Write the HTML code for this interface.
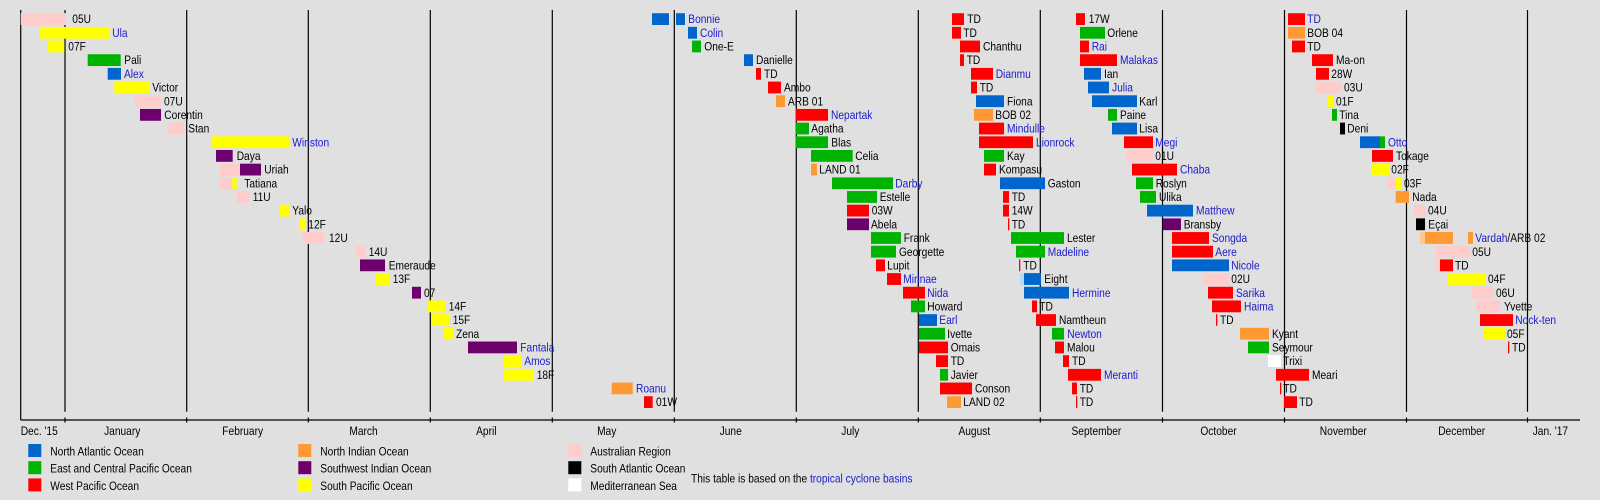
<!DOCTYPE html>
<html><head><meta charset="utf-8"><style>
html,body{margin:0;padding:0;background:#e0e0e0;}
svg{display:block;}
text{font-family:"Liberation Sans",Arial,sans-serif;font-size:12px;fill:#000;}
.l{fill:#1a1acc;}
.B{fill:#0066cc}.G{fill:#00b300}.R{fill:#ff0000}.O{fill:#ff9933}.P{fill:#6e006e}.Y{fill:#ffff00}.K{fill:#ffcccc}.N{fill:#000}.W{fill:#ffffff}
</style></head><body>
<svg width="1600" height="500" viewBox="0 0 1600 500" xmlns="http://www.w3.org/2000/svg">
<rect x="0" y="0" width="1600" height="500" fill="#e0e0e0"/>
<g stroke="#000" stroke-width="1.2">
<line x1="20.7" y1="10" x2="20.7" y2="420"/>
<line x1="65" y1="10" x2="65" y2="411.7"/><line x1="65" y1="417.5" x2="65" y2="422.5"/>
<line x1="186.7" y1="10" x2="186.7" y2="411.7"/><line x1="186.7" y1="417.5" x2="186.7" y2="422.5"/>
<line x1="308.3" y1="10" x2="308.3" y2="411.7"/><line x1="308.3" y1="417.5" x2="308.3" y2="422.5"/>
<line x1="430.3" y1="10" x2="430.3" y2="411.7"/><line x1="430.3" y1="417.5" x2="430.3" y2="422.5"/>
<line x1="552.3" y1="10" x2="552.3" y2="411.7"/><line x1="552.3" y1="417.5" x2="552.3" y2="422.5"/>
<line x1="674.3" y1="10" x2="674.3" y2="411.7"/><line x1="674.3" y1="417.5" x2="674.3" y2="422.5"/>
<line x1="796.3" y1="10" x2="796.3" y2="411.7"/><line x1="796.3" y1="417.5" x2="796.3" y2="422.5"/>
<line x1="918.3" y1="10" x2="918.3" y2="411.7"/><line x1="918.3" y1="417.5" x2="918.3" y2="422.5"/>
<line x1="1040.3" y1="10" x2="1040.3" y2="411.7"/><line x1="1040.3" y1="417.5" x2="1040.3" y2="422.5"/>
<line x1="1162.5" y1="10" x2="1162.5" y2="411.7"/><line x1="1162.5" y1="417.5" x2="1162.5" y2="422.5"/>
<line x1="1284.5" y1="10" x2="1284.5" y2="411.7"/><line x1="1284.5" y1="417.5" x2="1284.5" y2="422.5"/>
<line x1="1406.5" y1="10" x2="1406.5" y2="411.7"/><line x1="1406.5" y1="417.5" x2="1406.5" y2="422.5"/>
<line x1="1527.5" y1="10" x2="1527.5" y2="411.7"/><line x1="1527.5" y1="417.5" x2="1527.5" y2="422.5"/>
<line x1="20.7" y1="420" x2="1580" y2="420"/>
</g>

<!-- Row 0 -->
<g transform="translate(0,13.2)">
<rect class="K" x="20.7" y="0" width="45.3" height="11.8"/><text transform="translate(72.3,10) scale(.85,1)">05U</text>
<rect class="B" x="652" y="0" width="17" height="11.8"/><rect class="B" x="676" y="0" width="9" height="11.8"/><text class="l" transform="translate(688.3,10) scale(.85,1)">Bonnie</text>
<rect class="R" x="952" y="0" width="12" height="11.8"/><text transform="translate(967.3,10) scale(.85,1)">TD</text>
<rect class="R" x="1076" y="0" width="9" height="11.8"/><text transform="translate(1088.7,10) scale(.85,1)">17W</text>
<rect class="R" x="1288" y="0" width="17" height="11.8"/><text class="l" transform="translate(1307.3,10) scale(.85,1)">TD</text>
</g>
<!-- Row 1 -->
<g transform="translate(0,26.88)">
<rect class="Y" x="40" y="0" width="70" height="11.8"/><text class="l" transform="translate(112.3,10) scale(.85,1)">Ula</text>
<rect class="B" x="688" y="0" width="9" height="11.8"/><text class="l" transform="translate(700,10) scale(.85,1)">Colin</text>
<rect class="R" x="952" y="0" width="9" height="11.8"/><text transform="translate(963.3,10) scale(.85,1)">TD</text>
<rect class="G" x="1080" y="0" width="25" height="11.8"/><text transform="translate(1107.3,10) scale(.85,1)">Orlene</text>
<rect class="O" x="1288" y="0" width="17" height="11.8"/><text transform="translate(1307.3,10) scale(.85,1)">BOB 04</text>
</g>
<!-- Row 2 -->
<g transform="translate(0,40.56)">
<rect class="Y" x="47.7" y="0" width="16.6" height="11.8"/><text transform="translate(68.3,10) scale(.85,1)">07F</text>
<rect class="G" x="692" y="0" width="9" height="11.8"/><text transform="translate(704.3,10) scale(.85,1)">One-E</text>
<rect class="R" x="960" y="0" width="20" height="11.8"/><text transform="translate(983,10) scale(.85,1)">Chanthu</text>
<rect class="R" x="1080" y="0" width="9" height="11.8"/><text class="l" transform="translate(1091.7,10) scale(.85,1)">Rai</text>
<rect class="R" x="1292" y="0" width="13" height="11.8"/><text transform="translate(1307.3,10) scale(.85,1)">TD</text>
</g>
<!-- Row 3 -->
<g transform="translate(0,54.24)">
<rect class="G" x="87.7" y="0" width="33" height="11.8"/><text transform="translate(124.3,10) scale(.85,1)">Pali</text>
<rect class="B" x="744" y="0" width="9" height="11.8"/><text transform="translate(756,10) scale(.85,1)">Danielle</text>
<rect class="R" x="960" y="0" width="4" height="11.8"/><text transform="translate(966.7,10) scale(.85,1)">TD</text>
<rect class="R" x="1080" y="0" width="37" height="11.8"/><text class="l" transform="translate(1120,10) scale(.85,1)">Malakas</text>
<rect class="R" x="1312" y="0" width="21" height="11.8"/><text transform="translate(1336,10) scale(.85,1)">Ma-on</text>
</g>
<!-- Row 4 -->
<g transform="translate(0,67.92)">
<rect class="B" x="107.7" y="0" width="13.3" height="11.8"/><text class="l" transform="translate(124,10) scale(.85,1)">Alex</text>
<rect class="R" x="756" y="0" width="5" height="11.8"/><text transform="translate(764,10) scale(.85,1)">TD</text>
<rect class="R" x="971" y="0" width="22" height="11.8"/><text class="l" transform="translate(995.7,10) scale(.85,1)">Dianmu</text>
<rect class="B" x="1084" y="0" width="17" height="11.8"/><text transform="translate(1104,10) scale(.85,1)">Ian</text>
<rect class="R" x="1316" y="0" width="13" height="11.8"/><text transform="translate(1331.3,10) scale(.85,1)">28W</text>
</g>
<!-- Row 5 -->
<g transform="translate(0,81.6)">
<rect class="Y" x="114.3" y="0" width="35" height="11.8"/><text transform="translate(152.3,10) scale(.85,1)">Victor</text>
<rect class="R" x="768" y="0" width="13" height="11.8"/><text transform="translate(784,10) scale(.85,1)">Ambo</text>
<rect class="R" x="971" y="0" width="6" height="11.8"/><text transform="translate(979.7,10) scale(.85,1)">TD</text>
<rect class="B" x="1088" y="0" width="21" height="11.8"/><text class="l" transform="translate(1112,10) scale(.85,1)">Julia</text>
<rect class="K" x="1316" y="0" width="25" height="11.8"/><text transform="translate(1344,10) scale(.85,1)">03U</text>
</g>
<!-- Row 6 -->
<g transform="translate(0,95.28)">
<rect class="K" x="135" y="0" width="25.7" height="11.8"/><text transform="translate(164,10) scale(.85,1)">07U</text>
<rect class="O" x="776" y="0" width="9" height="11.8"/><text transform="translate(788,10) scale(.85,1)">ARB 01</text>
<rect class="B" x="976" y="0" width="28" height="11.8"/><text transform="translate(1007,10) scale(.85,1)">Fiona</text>
<rect class="B" x="1092" y="0" width="45" height="11.8"/><text transform="translate(1139.3,10) scale(.85,1)">Karl</text>
<rect class="Y" x="1328" y="0" width="5" height="11.8"/><text transform="translate(1336,10) scale(.85,1)">01F</text>
</g>
<!-- Row 7 -->
<g transform="translate(0,108.96)">
<rect class="P" x="140" y="0" width="21" height="11.8"/><text transform="translate(164.3,10) scale(.85,1)">Corentin</text>
<rect class="R" x="796" y="0" width="32" height="11.8"/><text class="l" transform="translate(831,10) scale(.85,1)">Nepartak</text>
<rect class="O" x="974" y="0" width="19" height="11.8"/><text transform="translate(995.3,10) scale(.85,1)">BOB 02</text>
<rect class="G" x="1108" y="0" width="9" height="11.8"/><text transform="translate(1120,10) scale(.85,1)">Paine</text>
<rect class="G" x="1332" y="0" width="5" height="11.8"/><text transform="translate(1339.3,10) scale(.85,1)">Tina</text>
</g>
<!-- Row 8 -->
<g transform="translate(0,122.64)">
<rect class="K" x="168.3" y="0" width="16" height="11.8"/><text transform="translate(188.3,10) scale(.85,1)">Stan</text>
<rect class="G" x="796" y="0" width="13" height="11.8"/><text transform="translate(811.3,10) scale(.85,1)">Agatha</text>
<rect class="R" x="979" y="0" width="25" height="11.8"/><text class="l" transform="translate(1007,10) scale(.85,1)">Mindulle</text>
<rect class="B" x="1112" y="0" width="25" height="11.8"/><text transform="translate(1139.3,10) scale(.85,1)">Lisa</text>
<rect class="N" x="1340" y="0" width="5" height="11.8"/><text transform="translate(1347.3,10) scale(.85,1)">Deni</text>
</g>
<!-- Row 9 -->
<g transform="translate(0,136.32)">
<rect class="Y" x="211.7" y="0" width="77.6" height="11.8"/><text class="l" transform="translate(292.3,10) scale(.85,1)">Winston</text>
<rect class="G" x="796" y="0" width="32" height="11.8"/><text transform="translate(831.3,10) scale(.85,1)">Blas</text>
<rect class="R" x="979" y="0" width="54" height="11.8"/><text class="l" transform="translate(1036,10) scale(.85,1)">Lionrock</text>
<rect class="R" x="1124" y="0" width="29" height="11.8"/><text class="l" transform="translate(1155.3,10) scale(.85,1)">Megi</text>
<rect class="B" x="1360" y="0" width="20" height="11.8"/><rect class="G" x="1380" y="0" width="5" height="11.8"/><text class="l" transform="translate(1388,10) scale(.85,1)">Otto</text>
</g>
<!-- Row 10 -->
<g transform="translate(0,150)">
<rect class="P" x="216" y="0" width="16.7" height="11.8"/><text transform="translate(236.7,10) scale(.85,1)">Daya</text>
<rect class="G" x="811" y="0" width="41.7" height="11.8"/><text transform="translate(855.3,10) scale(.85,1)">Celia</text>
<rect class="G" x="984" y="0" width="20" height="11.8"/><text transform="translate(1007,10) scale(.85,1)">Kay</text>
<rect class="K" x="1126" y="0" width="27" height="11.8"/><text transform="translate(1155.3,10) scale(.85,1)">01U</text>
<rect class="R" x="1372" y="0" width="21" height="11.8"/><text transform="translate(1396,10) scale(.85,1)">Tokage</text>
</g>
<!-- Row 11 -->
<g transform="translate(0,163.68)">
<rect class="K" x="220" y="0" width="20" height="11.8"/><rect class="P" x="240" y="0" width="21" height="11.8"/><text transform="translate(264.3,10) scale(.85,1)">Uriah</text>
<rect class="O" x="811" y="0" width="6" height="11.8"/><text transform="translate(819.3,10) scale(.85,1)">LAND 01</text>
<rect class="R" x="984" y="0" width="12" height="11.8"/><text transform="translate(999,10) scale(.85,1)">Kompasu</text>
<rect class="R" x="1132" y="0" width="45" height="11.8"/><text class="l" transform="translate(1180,10) scale(.85,1)">Chaba</text>
<rect class="Y" x="1372" y="0" width="18" height="11.8"/><text transform="translate(1391.3,10) scale(.85,1)">02F</text>
</g>
<!-- Row 12 -->
<g transform="translate(0,177.36)">
<rect class="K" x="220" y="0" width="12.3" height="11.8"/><rect class="Y" x="232.3" y="0" width="4.4" height="11.8"/><text transform="translate(244.3,10) scale(.85,1)">Tatiana</text>
<rect class="G" x="832" y="0" width="61" height="11.8"/><text class="l" transform="translate(895.3,10) scale(.85,1)">Darby</text>
<rect class="B" x="1000" y="0" width="45" height="11.8"/><text transform="translate(1047.7,10) scale(.85,1)">Gaston</text>
<rect class="G" x="1136" y="0" width="17" height="11.8"/><text transform="translate(1155.7,10) scale(.85,1)">Roslyn</text>
<rect class="K" x="1388" y="0" width="8" height="11.8"/><rect class="Y" x="1396" y="0" width="5" height="11.8"/><text transform="translate(1404,10) scale(.85,1)">03F</text>
</g>
<!-- Row 13 -->
<g transform="translate(0,191.04)">
<rect class="K" x="236.7" y="0" width="12.3" height="11.8"/><text transform="translate(252.7,10) scale(.85,1)">11U</text>
<rect class="G" x="847" y="0" width="30" height="11.8"/><text transform="translate(879.7,10) scale(.85,1)">Estelle</text>
<rect class="R" x="1003" y="0" width="6" height="11.8"/><text transform="translate(1011.7,10) scale(.85,1)">TD</text>
<rect class="G" x="1140" y="0" width="16" height="11.8"/><text transform="translate(1159,10) scale(.85,1)">Ulika</text>
<rect class="O" x="1395.7" y="0" width="13.3" height="11.8"/><text transform="translate(1412.3,10) scale(.85,1)">Nada</text>
</g>
<!-- Row 14 -->
<g transform="translate(0,204.72)">
<rect class="Y" x="280" y="0" width="9.7" height="11.8"/><text transform="translate(292.3,10) scale(.85,1)">Yalo</text>
<rect class="R" x="847" y="0" width="22" height="11.8"/><text transform="translate(871.7,10) scale(.85,1)">03W</text>
<rect class="R" x="1003" y="0" width="6" height="11.8"/><text transform="translate(1011.7,10) scale(.85,1)">14W</text>
<rect class="B" x="1147" y="0" width="46" height="11.8"/><text class="l" transform="translate(1196,10) scale(.85,1)">Matthew</text>
<rect class="K" x="1414" y="0" width="12" height="11.8"/><text transform="translate(1428,10) scale(.85,1)">04U</text>
</g>
<!-- Row 15 -->
<g transform="translate(0,218.4)">
<rect class="Y" x="300" y="0" width="6" height="11.8"/><text transform="translate(308.3,10) scale(.85,1)">12F</text>
<rect class="P" x="847" y="0" width="22" height="11.8"/><text transform="translate(871,10) scale(.85,1)">Abela</text>
<rect class="R" x="1008" y="0" width="1.3" height="11.8"/><text transform="translate(1011.7,10) scale(.85,1)">TD</text>
<rect class="P" x="1163" y="0" width="18" height="11.8"/><text transform="translate(1183.7,10) scale(.85,1)">Bransby</text>
<rect class="N" x="1416" y="0" width="9" height="11.8"/><text transform="translate(1428.3,10) scale(.85,1)">Eçai</text>
</g>
<!-- Row 16 -->
<g transform="translate(0,232.08)">
<rect class="K" x="302.3" y="0" width="22" height="11.8"/><text transform="translate(329,10) scale(.85,1)">12U</text>
<rect class="G" x="871" y="0" width="30" height="11.8"/><text transform="translate(903.7,10) scale(.85,1)">Frank</text>
<rect class="G" x="1011" y="0" width="53" height="11.8"/><text transform="translate(1067,10) scale(.85,1)">Lester</text>
<rect class="R" x="1172" y="0" width="37" height="11.8"/><text class="l" transform="translate(1212,10) scale(.85,1)">Songda</text>
<rect fill="#ffc890" x="1420" y="0" width="5" height="11.8"/><rect class="O" x="1425" y="0" width="28" height="11.8"/><rect class="O" x="1468" y="0" width="5" height="11.8"/><text transform="translate(1475.3,10) scale(.85,1)"><tspan class="l">Vardah</tspan>/ARB 02</text>
</g>
<!-- Row 17 -->
<g transform="translate(0,245.76)">
<rect class="K" x="356.3" y="0" width="8.7" height="11.8"/><text transform="translate(368.7,10) scale(.85,1)">14U</text>
<rect class="G" x="871" y="0" width="25" height="11.8"/><text transform="translate(899,10) scale(.85,1)">Georgette</text>
<rect class="G" x="1016" y="0" width="29" height="11.8"/><text class="l" transform="translate(1047.7,10) scale(.85,1)">Madeline</text>
<rect class="R" x="1172" y="0" width="41" height="11.8"/><text class="l" transform="translate(1215.3,10) scale(.85,1)">Aere</text>
<rect class="K" x="1436" y="0" width="34" height="11.8"/><text transform="translate(1472.3,10) scale(.85,1)">05U</text>
</g>
<!-- Row 18 -->
<g transform="translate(0,259.44)">
<rect class="P" x="360" y="0" width="25" height="11.8"/><text transform="translate(388.7,10) scale(.85,1)">Emeraude</text>
<rect class="R" x="876" y="0" width="9" height="11.8"/><text transform="translate(887.3,10) scale(.85,1)">Lupit</text>
<rect class="R" x="1019" y="0" width="1.3" height="11.8"/><text transform="translate(1023.3,10) scale(.85,1)">TD</text>
<rect class="B" x="1172" y="0" width="57" height="11.8"/><text class="l" transform="translate(1231.3,10) scale(.85,1)">Nicole</text>
<rect class="K" x="1436" y="0" width="4" height="11.8"/><rect class="R" x="1440" y="0" width="13" height="11.8"/><text transform="translate(1455,10) scale(.85,1)">TD</text>
</g>
<!-- Row 19 -->
<g transform="translate(0,273.12)">
<rect class="Y" x="376" y="0" width="13" height="11.8"/><text transform="translate(392.7,10) scale(.85,1)">13F</text>
<rect class="R" x="887" y="0" width="14" height="11.8"/><text class="l" transform="translate(903.3,10) scale(.85,1)">Mirinae</text>
<rect fill="#b8d8f4" x="1020" y="0" width="4" height="11.8"/><rect class="B" x="1024" y="0" width="17" height="11.8"/><text transform="translate(1044.3,10) scale(.85,1)">Eight</text>
<rect class="K" x="1204" y="0" width="25" height="11.8"/><text transform="translate(1231.3,10) scale(.85,1)">02U</text>
<rect class="Y" x="1448" y="0" width="37.3" height="11.8"/><text transform="translate(1488,10) scale(.85,1)">04F</text>
</g>
<!-- Row 20 -->
<g transform="translate(0,286.8)">
<rect class="P" x="412" y="0" width="9" height="11.8"/><text transform="translate(424,10) scale(.85,1)">07</text>
<rect class="R" x="903" y="0" width="22" height="11.8"/><text class="l" transform="translate(927.3,10) scale(.85,1)">Nida</text>
<rect class="B" x="1024" y="0" width="45" height="11.8"/><text class="l" transform="translate(1072,10) scale(.85,1)">Hermine</text>
<rect class="R" x="1208" y="0" width="25" height="11.8"/><text class="l" transform="translate(1236,10) scale(.85,1)">Sarika</text>
<rect class="K" x="1472" y="0" width="21.3" height="11.8"/><text transform="translate(1496,10) scale(.85,1)">06U</text>
</g>
<!-- Row 21 -->
<g transform="translate(0,300.48)">
<rect class="Y" x="428" y="0" width="17.3" height="11.8"/><text transform="translate(448.7,10) scale(.85,1)">14F</text>
<rect class="G" x="911" y="0" width="14" height="11.8"/><text transform="translate(927.3,10) scale(.85,1)">Howard</text>
<rect class="R" x="1032" y="0" width="5" height="11.8"/><text transform="translate(1039.3,10) scale(.85,1)">TD</text>
<rect class="R" x="1212" y="0" width="29" height="11.8"/><text class="l" transform="translate(1244,10) scale(.85,1)">Haima</text>
<rect class="K" x="1476" y="0" width="24" height="11.8"/><text transform="translate(1504,10) scale(.85,1)">Yvette</text>
</g>
<!-- Row 22 -->
<g transform="translate(0,314.16)">
<rect class="Y" x="432" y="0" width="17.3" height="11.8"/><text transform="translate(452.7,10) scale(.85,1)">15F</text>
<rect class="B" x="919" y="0" width="18" height="11.8"/><text class="l" transform="translate(939.3,10) scale(.85,1)">Earl</text>
<rect class="R" x="1036" y="0" width="20" height="11.8"/><text transform="translate(1059,10) scale(.85,1)">Namtheun</text>
<rect class="R" x="1216" y="0" width="1.3" height="11.8"/><text transform="translate(1220,10) scale(.85,1)">TD</text>
<rect class="R" x="1480" y="0" width="33" height="11.8"/><text class="l" transform="translate(1515.3,10) scale(.85,1)">Nock-ten</text>
</g>
<!-- Row 23 -->
<g transform="translate(0,327.84)">
<rect class="Y" x="444" y="0" width="9.3" height="11.8"/><text transform="translate(456,10) scale(.85,1)">Zena</text>
<rect class="G" x="919" y="0" width="26" height="11.8"/><text transform="translate(947.3,10) scale(.85,1)">Ivette</text>
<rect class="G" x="1052" y="0" width="12" height="11.8"/><text class="l" transform="translate(1067.3,10) scale(.85,1)">Newton</text>
<rect class="O" x="1240" y="0" width="29" height="11.8"/><text transform="translate(1272,10) scale(.85,1)">Kyant</text>
<rect class="Y" x="1484" y="0" width="21" height="11.8"/><text transform="translate(1507,10) scale(.85,1)">05F</text>
</g>
<!-- Row 24 -->
<g transform="translate(0,341.52)">
<rect class="P" x="468" y="0" width="49" height="11.8"/><text class="l" transform="translate(520.3,10) scale(.85,1)">Fantala</text>
<rect class="R" x="919" y="0" width="29" height="11.8"/><text transform="translate(950.7,10) scale(.85,1)">Omais</text>
<rect class="R" x="1055" y="0" width="9" height="11.8"/><text transform="translate(1067,10) scale(.85,1)">Malou</text>
<rect class="G" x="1248" y="0" width="21" height="11.8"/><text transform="translate(1272,10) scale(.85,1)">Seymour</text>
<rect class="R" x="1508" y="0" width="1.3" height="11.8"/><text transform="translate(1512,10) scale(.85,1)">TD</text>
</g>
<!-- Row 25 -->
<g transform="translate(0,355.2)">
<rect class="Y" x="504" y="0" width="17.7" height="11.8"/><text class="l" transform="translate(524.3,10) scale(.85,1)">Amos</text>
<rect class="R" x="936" y="0" width="12" height="11.8"/><text transform="translate(950.7,10) scale(.85,1)">TD</text>
<rect class="R" x="1063" y="0" width="6" height="11.8"/><text transform="translate(1072,10) scale(.85,1)">TD</text>
<rect class="W" x="1268" y="0" width="13" height="11.8"/><text transform="translate(1283.3,10) scale(.85,1)">Trixi</text>
</g>
<!-- Row 26 -->
<g transform="translate(0,368.88)">
<rect class="Y" x="504" y="0" width="29.3" height="11.8"/><text transform="translate(536.7,10) scale(.85,1)">18F</text>
<rect class="G" x="940" y="0" width="8" height="11.8"/><text transform="translate(950.7,10) scale(.85,1)">Javier</text>
<rect class="R" x="1068" y="0" width="33" height="11.8"/><text class="l" transform="translate(1104,10) scale(.85,1)">Meranti</text>
<rect class="R" x="1276" y="0" width="33" height="11.8"/><text transform="translate(1312,10) scale(.85,1)">Meari</text>
</g>
<!-- Row 27 -->
<g transform="translate(0,382.56)">
<rect class="O" x="611.7" y="0" width="21" height="11.8"/><text class="l" transform="translate(636,10) scale(.85,1)">Roanu</text>
<rect class="R" x="940" y="0" width="32" height="11.8"/><text transform="translate(975,10) scale(.85,1)">Conson</text>
<rect class="R" x="1072" y="0" width="5" height="11.8"/><text transform="translate(1079.7,10) scale(.85,1)">TD</text>
<rect class="R" x="1280" y="0" width="1.3" height="11.8"/><text transform="translate(1283.3,10) scale(.85,1)">TD</text>
</g>
<!-- Row 28 -->
<g transform="translate(0,396.24)">
<rect class="R" x="644" y="0" width="8.7" height="11.8"/><text transform="translate(656,10) scale(.85,1)">01W</text>
<rect class="O" x="947" y="0" width="14" height="11.8"/><text transform="translate(963.3,10) scale(.85,1)">LAND 02</text>
<rect class="R" x="1076" y="0" width="1.3" height="11.8"/><text transform="translate(1079.7,10) scale(.85,1)">TD</text>
<rect class="R" x="1284" y="0" width="13" height="11.8"/><text transform="translate(1299.3,10) scale(.85,1)">TD</text>
</g>

<!-- Month labels -->
<g text-anchor="middle">
<text text-anchor="start" transform="translate(20.7,435) scale(.85,1)">Dec. '15</text>
<text transform="translate(122.2,435) scale(.85,1)">January</text>
<text transform="translate(242.7,435) scale(.85,1)">February</text>
<text transform="translate(363.5,435) scale(.85,1)">March</text>
<text transform="translate(486.3,435) scale(.85,1)">April</text>
<text transform="translate(606.7,435) scale(.85,1)">May</text>
<text transform="translate(730.7,435) scale(.85,1)">June</text>
<text transform="translate(850.3,435) scale(.85,1)">July</text>
<text transform="translate(974.3,435) scale(.85,1)">August</text>
<text transform="translate(1096.4,435) scale(.85,1)">September</text>
<text transform="translate(1218.5,435) scale(.85,1)">October</text>
<text transform="translate(1343.3,435) scale(.85,1)">November</text>
<text transform="translate(1461.7,435) scale(.85,1)">December</text>
<text text-anchor="start" transform="translate(1532.7,435) scale(.85,1)">Jan. '17</text>
</g>

<!-- Legend -->
<rect class="B" x="28.3" y="444" width="13" height="13"/><text transform="translate(50.3,455.7) scale(.85,1)">North Atlantic Ocean</text>
<rect class="G" x="28.3" y="461.2" width="13" height="13"/><text transform="translate(50.3,472.7) scale(.85,1)">East and Central Pacific Ocean</text>
<rect class="R" x="28.3" y="478.4" width="13" height="13"/><text transform="translate(50.3,490) scale(.85,1)">West Pacific Ocean</text>
<rect class="O" x="298.3" y="444" width="13" height="13"/><text transform="translate(320.3,455.7) scale(.85,1)">North Indian Ocean</text>
<rect class="P" x="298.3" y="461.2" width="13" height="13"/><text transform="translate(320.3,472.7) scale(.85,1)">Southwest Indian Ocean</text>
<rect class="Y" x="298.3" y="478.4" width="13" height="13"/><text transform="translate(320.3,490) scale(.85,1)">South Pacific Ocean</text>
<rect class="K" x="568.3" y="444" width="13" height="13"/><text transform="translate(590.3,455.7) scale(.85,1)">Australian Region</text>
<rect class="N" x="568.3" y="461.2" width="13" height="13"/><text transform="translate(590.3,472.7) scale(.85,1)">South Atlantic Ocean</text>
<rect class="W" x="568.3" y="478.4" width="13" height="13"/><text transform="translate(590.3,490) scale(.85,1)">Mediterranean Sea</text>
<text transform="translate(691,482.3) scale(.85,1)">This table is based on the <tspan class="l">tropical cyclone basins</tspan></text>
</svg>
</body></html>
